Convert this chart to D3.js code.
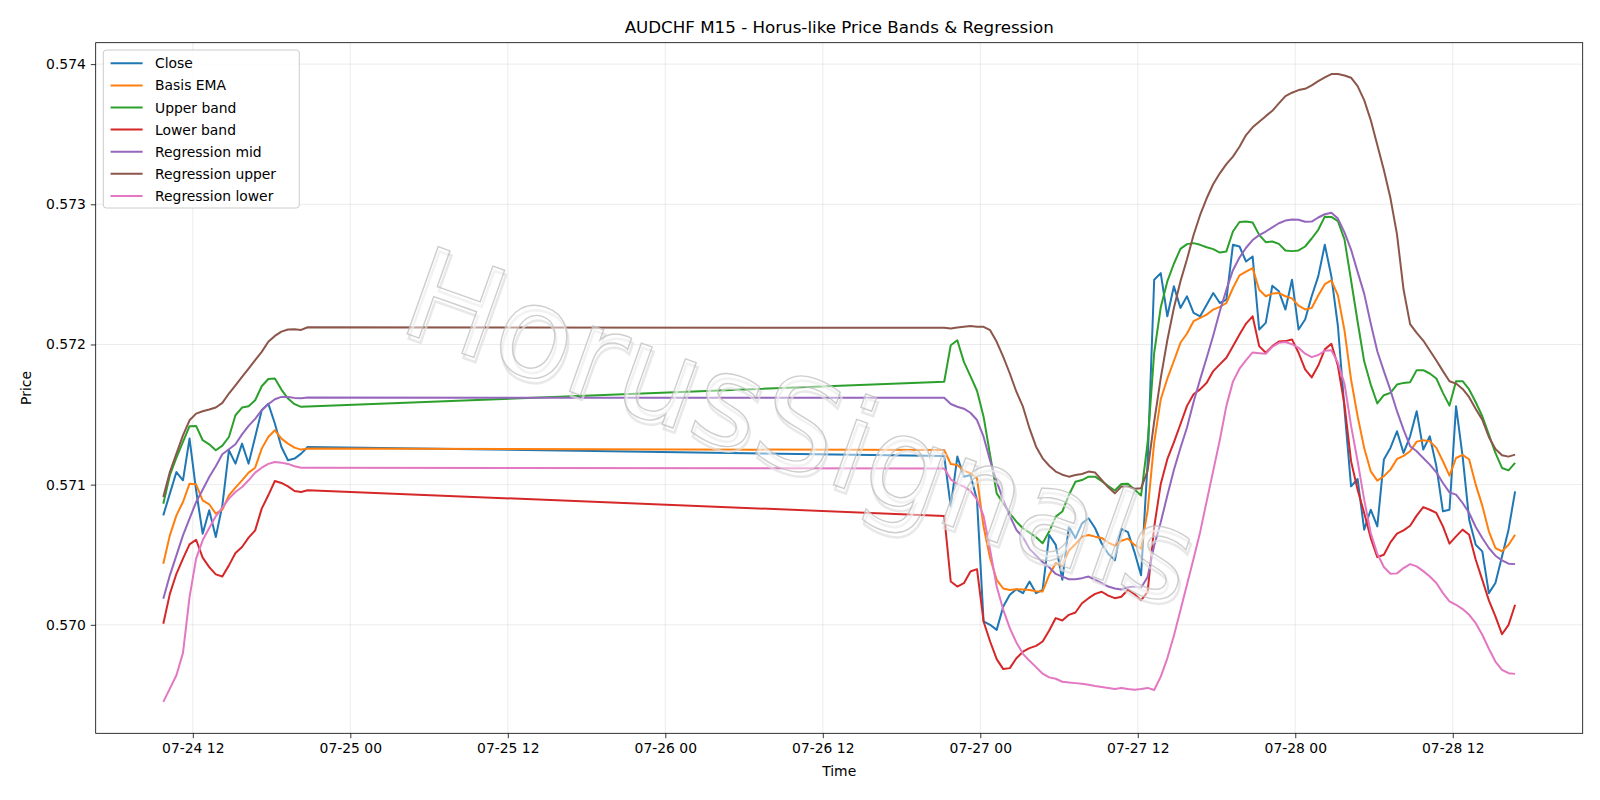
<!DOCTYPE html>
<html>
<head>
<meta charset="utf-8">
<script src="https://cdn.jsdelivr.net/npm/d3@7"></script>
<style>
  body { margin: 0; background: #fff; }
  svg { font-family: "DejaVu Sans", sans-serif; }
</style>
</head>
<body>
<div class="chart"></div>
<script>
// two trading sessions, sampled every 30 minutes
var sessionStarts = ["2025-07-24T09:45", "2025-07-26T21:15"];
var sessionBars = [23, 88];
var barMinutes = 30;

var seriesNames = ["Close", "Basis EMA", "Upper band", "Lower band", "Regression mid", "Regression upper", "Regression lower"];
var seriesColors = ["#1f77b4", "#ff7f0e", "#2ca02c", "#d62728", "#9467bd", "#8c564b", "#e377c2"];

var close = [
  0.570781, 0.570936, 0.571090, 0.571031, 0.571329, 0.570960, 0.570650, 0.570817, 0.570626, 0.570852,
  0.571245, 0.571150, 0.571293, 0.571150, 0.571340, 0.571531, 0.571578, 0.571436, 0.571269, 0.571174,
  0.571186, 0.571221, 0.571269,
  0.571204, 0.570843, 0.571200, 0.571057, 0.571069, 0.570891, 0.570024, 0.570000, 0.569964, 0.570131,
  0.570214, 0.570254, 0.570226, 0.570309, 0.570226, 0.570249, 0.570641, 0.570570, 0.570321, 0.570701,
  0.570618, 0.570724, 0.570760, 0.570689, 0.570580, 0.570507, 0.570460, 0.570685, 0.570661, 0.570519,
  0.570353, 0.571159, 0.572462, 0.572509, 0.572201, 0.572415, 0.572261, 0.572344, 0.572225, 0.572201,
  0.572284, 0.572367, 0.572296, 0.572320, 0.572711, 0.572699, 0.572592, 0.572628, 0.572107, 0.572154,
  0.572419, 0.572379, 0.572249, 0.572462, 0.572107, 0.572178, 0.572344, 0.572486, 0.572711, 0.572486,
  0.572130, 0.571538, 0.570988, 0.571040, 0.570679, 0.570821, 0.570702, 0.571179, 0.571262, 0.571381,
  0.571226, 0.571345, 0.571524, 0.571250, 0.571345, 0.571131, 0.570810, 0.570821, 0.571560, 0.571202,
  0.570750, 0.570571, 0.570524, 0.570226, 0.570298, 0.570488, 0.570679, 0.570952
];

var basisEma = [
  0.570436, 0.570638, 0.570781, 0.570876, 0.571007, 0.571002, 0.570888, 0.570860, 0.570793, 0.570822,
  0.570924, 0.570979, 0.571031, 0.571086, 0.571121, 0.571257, 0.571340, 0.571388, 0.571328, 0.571293,
  0.571264, 0.571250, 0.571257,
  0.571247, 0.571147, 0.571140, 0.571100, 0.571081, 0.571045, 0.570701, 0.570475, 0.570321, 0.570259,
  0.570249, 0.570254, 0.570252, 0.570249, 0.570240, 0.570238, 0.570356, 0.570439, 0.570420, 0.570530,
  0.570575, 0.570629, 0.570641, 0.570629, 0.570620, 0.570586, 0.570565, 0.570600, 0.570615, 0.570570,
  0.570543, 0.570815, 0.571301, 0.571609, 0.571756, 0.571882, 0.572012, 0.572078, 0.572166, 0.572190,
  0.572213, 0.572249, 0.572268, 0.572296, 0.572403, 0.572493, 0.572519, 0.572545, 0.572391, 0.572344,
  0.572363, 0.572367, 0.572344, 0.572329, 0.572277, 0.572250, 0.572260, 0.572350, 0.572430, 0.572457,
  0.572350, 0.572100, 0.571750, 0.571488, 0.571262, 0.571095, 0.571029, 0.571060, 0.571107, 0.571183,
  0.571205, 0.571238, 0.571307, 0.571317, 0.571310, 0.571262, 0.571167, 0.571064, 0.571190, 0.571212,
  0.571179, 0.571000, 0.570850, 0.570667, 0.570548, 0.570524, 0.570571, 0.570643
];

var upperBand = [
  0.570864, 0.571067, 0.571193, 0.571305, 0.571417, 0.571419, 0.571317, 0.571288, 0.571245, 0.571278,
  0.571340, 0.571495, 0.571550, 0.571559, 0.571602, 0.571702, 0.571754, 0.571757, 0.571678, 0.571614,
  0.571574, 0.571555, 0.571557,
  0.571734, 0.571995, 0.572030, 0.571876, 0.571774, 0.571670, 0.571485, 0.571211, 0.570938, 0.570867,
  0.570796, 0.570736, 0.570689, 0.570658, 0.570625, 0.570582, 0.570665, 0.570772, 0.570808, 0.570926,
  0.571021, 0.571033, 0.571057, 0.571057, 0.571025, 0.570990, 0.570958, 0.571005, 0.571007, 0.570965,
  0.570922, 0.571301, 0.571941, 0.572265, 0.572450, 0.572576, 0.572682, 0.572716, 0.572723, 0.572711,
  0.572694, 0.572680, 0.572656, 0.572664, 0.572806, 0.572874, 0.572877, 0.572870, 0.572782, 0.572730,
  0.572735, 0.572718, 0.572671, 0.572666, 0.572671, 0.572699, 0.572756, 0.572818, 0.572912, 0.572910,
  0.572880, 0.572750, 0.572458, 0.572162, 0.571880, 0.571714, 0.571579, 0.571638, 0.571655, 0.571714,
  0.571726, 0.571731, 0.571817, 0.571817, 0.571793, 0.571757, 0.571655, 0.571564, 0.571738, 0.571738,
  0.571679, 0.571588, 0.571488, 0.571357, 0.571226, 0.571119, 0.571102, 0.571155
];

var lowerBand = [
  0.570007, 0.570221, 0.570364, 0.570472, 0.570574, 0.570607, 0.570479, 0.570412, 0.570360, 0.570345,
  0.570424, 0.570512, 0.570555, 0.570622, 0.570674, 0.570829, 0.570924, 0.571026, 0.571012, 0.570988,
  0.570955, 0.570948, 0.570960,
  0.570777, 0.570309, 0.570273, 0.570297, 0.570380, 0.570397, 0.570024, 0.569881, 0.569755, 0.569684,
  0.569691, 0.569762, 0.569808, 0.569834, 0.569850, 0.569881, 0.569960, 0.570048, 0.570031, 0.570071,
  0.570088, 0.570154, 0.570190, 0.570221, 0.570236, 0.570208, 0.570190, 0.570200, 0.570250, 0.570218,
  0.570175, 0.570235, 0.570697, 0.571005, 0.571182, 0.571301, 0.571431, 0.571562, 0.571645, 0.571680,
  0.571727, 0.571810, 0.571858, 0.571905, 0.571988, 0.572071, 0.572149, 0.572201, 0.571988, 0.571941,
  0.571988, 0.572021, 0.572024, 0.572036, 0.571941, 0.571822, 0.571765, 0.571850, 0.571965, 0.572005,
  0.571846, 0.571570, 0.571167, 0.570964, 0.570798, 0.570619, 0.570483, 0.570500, 0.570588, 0.570650,
  0.570674, 0.570707, 0.570779, 0.570840, 0.570821, 0.570798, 0.570702, 0.570579, 0.570631, 0.570679,
  0.570643, 0.570464, 0.570321, 0.570174, 0.570060, 0.569933, 0.570000, 0.570143
];

var regMid = [
  0.570186, 0.570353, 0.570495, 0.570638, 0.570757, 0.570876, 0.570964, 0.571055, 0.571131, 0.571217,
  0.571252, 0.571288, 0.571359, 0.571419, 0.571469, 0.571531, 0.571574, 0.571609, 0.571626, 0.571626,
  0.571619, 0.571617, 0.571621,
  0.571620, 0.571575, 0.571556, 0.571542, 0.571513, 0.571461, 0.571342, 0.571171, 0.571021, 0.570891,
  0.570777, 0.570677, 0.570625, 0.570542, 0.570494, 0.570447, 0.570411, 0.570363, 0.570344, 0.570325,
  0.570325, 0.570333, 0.570344, 0.570321, 0.570297, 0.570273, 0.570259, 0.570252, 0.570268, 0.570273,
  0.570264, 0.570341, 0.570566, 0.570732, 0.570922, 0.571104, 0.571261, 0.571408, 0.571590, 0.571751,
  0.571905, 0.572064, 0.572237, 0.572391, 0.572530, 0.572620, 0.572690, 0.572745, 0.572780, 0.572806,
  0.572836, 0.572865, 0.572884, 0.572892, 0.572890, 0.572876, 0.572877, 0.572906, 0.572929, 0.572940,
  0.572898, 0.572800, 0.572677, 0.572518, 0.572363, 0.572150, 0.571952, 0.571810, 0.571674, 0.571524,
  0.571393, 0.571274, 0.571238, 0.571190, 0.571143, 0.571088, 0.571012, 0.570945, 0.570929, 0.570869,
  0.570798, 0.570698, 0.570619, 0.570548, 0.570493, 0.570460, 0.570436, 0.570433
];

var regUpper = [
  0.570912, 0.571090, 0.571221, 0.571352, 0.571459, 0.571507, 0.571524, 0.571536, 0.571550, 0.571583,
  0.571650, 0.571709, 0.571769, 0.571828, 0.571888, 0.571947, 0.572019, 0.572061, 0.572092, 0.572107,
  0.572109, 0.572104, 0.572123,
  0.572119, 0.572114, 0.572121, 0.572126, 0.572131, 0.572126, 0.572126, 0.572102, 0.572019, 0.571912,
  0.571793, 0.571663, 0.571556, 0.571401, 0.571271, 0.571188, 0.571135, 0.571093, 0.571071, 0.571057,
  0.571069, 0.571076, 0.571093, 0.571086, 0.571033, 0.570981, 0.570938, 0.570986, 0.570986, 0.570971,
  0.570974, 0.571100, 0.571450, 0.571760, 0.572030, 0.572260, 0.572450, 0.572608, 0.572781, 0.572924,
  0.573043, 0.573145, 0.573221, 0.573287, 0.573340, 0.573411, 0.573494, 0.573549, 0.573589, 0.573629,
  0.573667, 0.573720, 0.573772, 0.573796, 0.573815, 0.573824, 0.573848, 0.573879, 0.573905, 0.573929,
  0.573929, 0.573919, 0.573903, 0.573843, 0.573743, 0.573601, 0.573423, 0.573245, 0.573045, 0.572785,
  0.572392, 0.572145, 0.572083, 0.572028, 0.571957, 0.571886, 0.571810, 0.571738, 0.571721, 0.571683,
  0.571624, 0.571540, 0.571464, 0.571340, 0.571255, 0.571210, 0.571200, 0.571214
];

var regLower = [
  0.569450, 0.569545, 0.569640, 0.569800, 0.570198, 0.570472, 0.570603, 0.570691, 0.570774, 0.570836,
  0.570900, 0.570948, 0.570983, 0.571031, 0.571086, 0.571121, 0.571148, 0.571162, 0.571157, 0.571148,
  0.571131, 0.571121, 0.571121,
  0.571116, 0.571038, 0.571005, 0.570986, 0.570955, 0.570895, 0.570777, 0.570534, 0.570273, 0.570107,
  0.569976, 0.569874, 0.569793, 0.569743, 0.569698, 0.569651, 0.569625, 0.569615, 0.569594, 0.569589,
  0.569584, 0.569580, 0.569572, 0.569563, 0.569556, 0.569549, 0.569542, 0.569549, 0.569542, 0.569537,
  0.569542, 0.569550, 0.569535, 0.569630, 0.569761, 0.569922, 0.570104, 0.570287, 0.570472, 0.570661,
  0.570882, 0.571100, 0.571318, 0.571562, 0.571735, 0.571827, 0.571889, 0.571943, 0.571938, 0.571934,
  0.571983, 0.572012, 0.572017, 0.572002, 0.571976, 0.571934, 0.571910, 0.571925, 0.571955, 0.571958,
  0.571870, 0.571720, 0.571421, 0.571167, 0.570893, 0.570655, 0.570507, 0.570412, 0.570364, 0.570367,
  0.570405, 0.570433, 0.570417, 0.570383, 0.570345, 0.570298, 0.570226, 0.570167, 0.570143, 0.570112,
  0.570071, 0.570012, 0.569929, 0.569829, 0.569738, 0.569679, 0.569655, 0.569650
];

var yTicks = [0.570, 0.571, 0.572, 0.573, 0.574];

var svgWidth = 1600;
var svgHeight = 800;

var margin = {
  top: 42.7,
  right: 17.3,
  bottom: 66.7,
  left: 95.7
};

var width = svgWidth - margin.left - margin.right;
var height = svgHeight - margin.top - margin.bottom;

var parseTime = d3.timeParse("%Y-%m-%dT%H:%M");
var times = [];
sessionStarts.forEach(function(s, i) {
  var t0 = parseTime(s);
  for (var k = 0; k < sessionBars[i]; k++) {
    times.push(d3.timeMinute.offset(t0, k * barMinutes));
  }
});

var allSeries = [close, basisEma, upperBand, lowerBand, regMid, regUpper, regLower];

var svg = d3.select(".chart")
  .append("svg")
  .attr("width", svgWidth)
  .attr("height", svgHeight);

var chartGroup = svg.append("g")
  .attr("transform", `translate(${margin.left}, ${margin.top})`);

// matplotlib-style 5% margins on both axes
var tExtent = d3.extent(times);
var tPad = (tExtent[1] - tExtent[0]) * 0.05;
var xScale = d3.scaleTime()
  .domain([new Date(+tExtent[0] - tPad), new Date(+tExtent[1] + tPad)])
  .range([0, width]);

var yMin = d3.min(allSeries, s => d3.min(s));
var yMax = d3.max(allSeries, s => d3.max(s));
var yPad = (yMax - yMin) * 0.05;
var yScale = d3.scaleLinear()
  .domain([yMin - yPad, yMax + yPad])
  .range([height, 0]);

var xTickValues = d3.timeHour.every(12).range(xScale.domain()[0], xScale.domain()[1]);

// grid
chartGroup.append("g")
  .selectAll("line.vgrid")
  .data(xTickValues)
  .enter()
  .append("line")
  .attr("x1", d => xScale(d))
  .attr("x2", d => xScale(d))
  .attr("y1", 0)
  .attr("y2", height)
  .attr("stroke", "#b0b0b0")
  .attr("stroke-opacity", 0.3)
  .attr("stroke-width", 0.8);

chartGroup.append("g")
  .selectAll("line.hgrid")
  .data(yTicks)
  .enter()
  .append("line")
  .attr("x1", 0)
  .attr("x2", width)
  .attr("y1", d => yScale(d))
  .attr("y2", d => yScale(d))
  .attr("stroke", "#b0b0b0")
  .attr("stroke-opacity", 0.3)
  .attr("stroke-width", 0.8);

// lines
var line = d3.line()
  .x((d, i) => xScale(times[i]))
  .y(d => yScale(d));

chartGroup.append("g")
  .selectAll("path")
  .data(allSeries)
  .enter()
  .append("path")
  .attr("d", d => line(d))
  .attr("fill", "none")
  .attr("stroke", (d, i) => seriesColors[i])
  .attr("stroke-width", 2)
  .attr("stroke-linejoin", "round");

// axes
var bottomAxis = d3.axisBottom(xScale)
  .tickValues(xTickValues)
  .tickFormat(d3.timeFormat("%m-%d %H"))
  .tickSize(4.9)
  .tickPadding(4.9)
  .tickSizeOuter(0);

var leftAxis = d3.axisLeft(yScale)
  .tickValues(yTicks)
  .tickFormat(d3.format(".3f"))
  .tickSize(4.9)
  .tickPadding(4.9)
  .tickSizeOuter(0);

var xAxisG = chartGroup.append("g")
  .attr("transform", `translate(0, ${height})`)
  .call(bottomAxis);

var yAxisG = chartGroup.append("g")
  .call(leftAxis);

[xAxisG, yAxisG].forEach(function(g) {
  g.select(".domain").remove();
  g.selectAll("line").attr("stroke", "#000").attr("stroke-width", 0.8);
  g.selectAll("text")
    .attr("fill", "#000")
    .style("font-family", "DejaVu Sans")
    .style("font-size", "13.9px");
});

chartGroup.append("rect")
  .attr("width", width)
  .attr("height", height)
  .attr("fill", "none")
  .attr("stroke", "#000")
  .attr("stroke-width", 0.8);

// watermark: light outlined text with a soft offset shadow, half-transparent fill
var wm = svg.append("g")
  .attr("transform", "translate(786, 468) rotate(19.5)");
wm.append("text")
  .attr("x", 3)
  .attr("y", 4)
  .attr("text-anchor", "middle")
  .style("font-size", "127px")
  .attr("fill", "none")
  .attr("stroke", "#dedede")
  .attr("stroke-width", 2.5)
  .attr("stroke-opacity", 0.7)
  .text("HorusSignals");
wm.append("text")
  .attr("text-anchor", "middle")
  .style("font-size", "127px")
  .attr("fill", "#fff")
  .attr("fill-opacity", 0.45)
  .attr("stroke", "#bdbdbd")
  .attr("stroke-width", 1.4)
  .attr("stroke-opacity", 0.75)
  .text("HorusSignals");

// legend
var legend = svg.append("g")
  .attr("transform", "translate(103.3, 50)");

legend.append("rect")
  .attr("width", 196)
  .attr("height", 158)
  .attr("rx", 3)
  .attr("fill", "#fff")
  .attr("fill-opacity", 0.8)
  .attr("stroke", "#cccccc")
  .attr("stroke-width", 1);

var legendItems = legend.selectAll("g.item")
  .data(seriesNames)
  .enter()
  .append("g")
  .attr("transform", (d, i) => `translate(0, ${13.3 + i * 22.1})`);

legendItems.append("line")
  .attr("x1", 7.3)
  .attr("x2", 39.3)
  .attr("stroke", (d, i) => seriesColors[i])
  .attr("stroke-width", 2);

legendItems.append("text")
  .attr("x", 51.7)
  .attr("dy", "0.36em")
  .style("font-size", "13.9px")
  .attr("fill", "#000")
  .text(d => d);

// titles
svg.append("text")
  .attr("x", margin.left + width / 2)
  .attr("y", 33.3)
  .attr("text-anchor", "middle")
  .style("font-size", "16.7px")
  .text("AUDCHF M15 - Horus-like Price Bands & Regression");

svg.append("text")
  .attr("x", margin.left + width / 2)
  .attr("y", 775.5)
  .attr("text-anchor", "middle")
  .style("font-size", "13.9px")
  .text("Time");

svg.append("text")
  .attr("transform", `translate(31, ${margin.top + height / 2}) rotate(-90)`)
  .attr("text-anchor", "middle")
  .style("font-size", "13.9px")
  .text("Price");
</script>
</body>
</html>
